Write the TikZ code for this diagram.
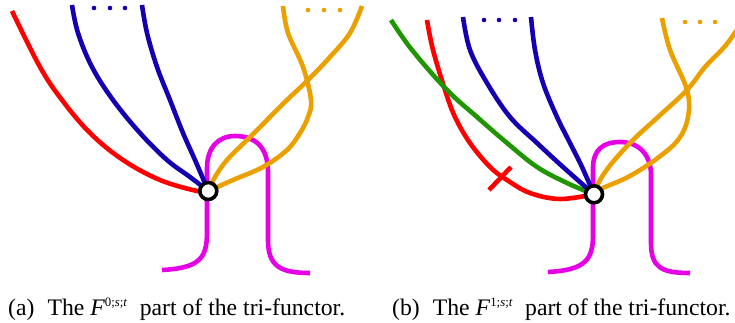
\documentclass[tikz,border=0pt]{standalone}
\usepackage{fontspec}
\setmainfont{Liberation Serif}
\definecolor{cred}{RGB}{255,0,0}
\definecolor{cblue}{RGB}{20,0,178}
\definecolor{corange}{RGB}{236,160,0}
\definecolor{cmag}{RGB}{230,0,230}
\definecolor{cgreen}{RGB}{30,150,0}
\newcommand{\supidx}[1]{\raisebox{9pt}{\fontsize{12.8}{14}\selectfont #1;\textit{s};\textit{t}}}
\begin{document}
\begin{tikzpicture}[x=1pt,y=-1pt,
  strand/.style={line width=4.6pt},
  sm/.style={smooth,tension=0.6},
  vertex/.style={circle,draw=black,fill=white,line width=3.6pt,minimum size=17pt,inner sep=0pt},
  dotb/.style={fill=cblue},
  doto/.style={fill=corange},
  caption/.style={font=\fontsize{23.7}{28}\selectfont,inner sep=0pt}]
\useasboundingbox (0,0) rectangle (735,323);
% ---------- left panel ----------
\coordinate (c1) at (208.3,191);
\draw[strand,cmag] (162,270) .. controls (200,268) and (207,258) .. (207,232) -- (207,168)
  .. controls (207,148) and (218,136) .. (235,136) .. controls (256,136) and (268,148) .. (268,172)
  -- (268,240) .. controls (268,266) and (280,273) .. (310,273);
\draw[strand,cred] plot[sm] coordinates {(12,11) (40,67) (62,100) (90,133) (123,160) (160,180) (197,191) (c1)};
\draw[strand,cblue] plot[sm] coordinates {(72,5) (78,33) (92,67) (113,100) (140,133) (167,160) (190,177) (c1)};
\draw[strand,cblue] plot[sm] coordinates {(142,5) (147,33) (157,67) (170,100) (183,133) (195,160) (c1)};
\draw[strand,corange] plot[sm] coordinates {(283,6) (288,33) (303,67) (311,100) (308,117) (300,133) (287,150) (263,167) (233,180) (c1)};
\draw[strand,corange] plot[sm] coordinates {(362,6) (350,33) (330,57) (308,80) (287,100) (267,120) (247,140) (227,160) (215,177) (c1)};
\foreach \x in {94,110,125} \fill[dotb] (\x,8) circle (2.3pt);
\foreach \x in {308,324,340} \fill[doto] (\x,10) circle (2.3pt);
\node[vertex] (v1) at (c1) {};
% ---------- right panel ----------
\coordinate (c2) at (594,194.3);
\draw[strand,cmag] (548,272) .. controls (585,270) and (593,260) .. (593,235) -- (593,168)
  .. controls (593,150) and (603,142) .. (620,142) .. controls (639,142) and (651,155) .. (651,175)
  -- (651,243) .. controls (651,268) and (662,273) .. (690,273);
\draw[strand,cred] plot[sm] coordinates {(427,20) (433,50) (445,90) (455,117) (470,143) (490,167) (507,180) (530,193) (560,199) (c2)};
\draw[strand,cred] (489,190) -- (511,167);
\draw[strand,cgreen] plot[sm] coordinates {(391,20) (412,50) (447,90) (477,117) (507,143) (537,167) (567,183) (c2)};
\draw[strand,cblue] plot[sm] coordinates {(463,17) (470,50) (487,83) (510,117) (537,143) (563,167) (c2)};
\draw[strand,cblue] plot[sm] coordinates {(531,17) (535,50) (543,83) (557,117) (570,143) (582,167) (c2)};
\draw[strand,corange] plot[sm] coordinates {(662,18) (670,50) (687,90) (688,117) (678,140) (655,160) (628,177) (603,188) (c2)};
\draw[strand,corange] plot[sm] coordinates {(742,22) (726,45) (705,67) (687,90) (658,117) (633,140) (612,163) (600,180) (c2)};
\foreach \x in {484,499,515} \fill[dotb] (\x,20) circle (2.3pt);
\foreach \x in {685,700,715} \fill[doto] (\x,22) circle (2.3pt);
\node[vertex] (v2) at (c2) {};
% ---------- captions ----------
\node[caption,anchor=base west] (capa) at (8,315) {(a)\hspace{0.3em} The \textit{F}\supidx{0}\hspace{0.28em} part of the tri-functor.};
\node[caption,anchor=base west] (capb) at (392,315) {(b)\hspace{0.3em} The \textit{F}\supidx{1}\hspace{0.28em} part of the tri-functor.};
\end{tikzpicture}
\end{document}
